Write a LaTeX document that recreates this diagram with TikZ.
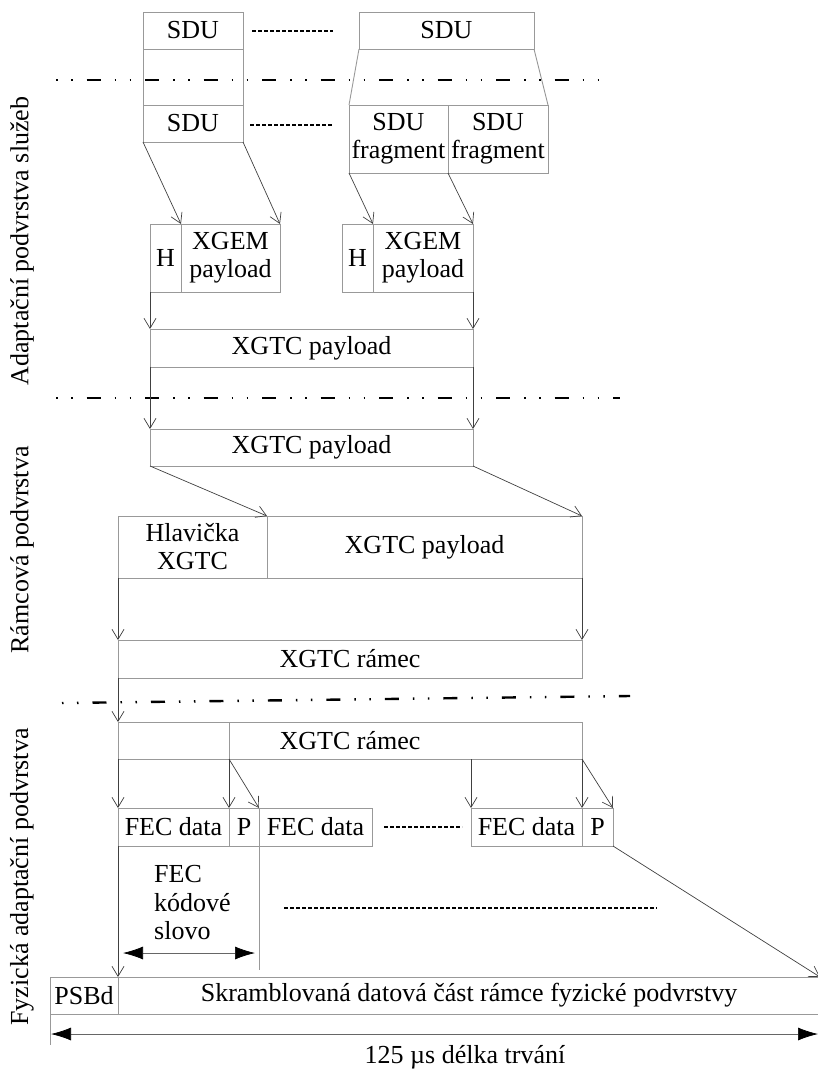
\documentclass[tikz,border=0pt]{standalone}
\usepackage{fontspec}
\setmainfont{Liberation Serif}
\usetikzlibrary{positioning,arrows.meta}

\begin{document}
\begin{tikzpicture}[
  x=1pt, y=-1pt,
  font=\fontsize{26}{28}\selectfont,
  cell/.style={draw=black!40, line width=0.9pt, inner sep=0pt, outer sep=0pt, anchor=north west, align=center},
  link/.style={draw=black!40, line width=0.9pt},
  flow/.style={-{Straight Barb[length=10pt,width=12pt]}, draw=black!75, line width=0.7pt},
  span/.style={{Latex[black,length=20pt,width=13pt]}-{Latex[black,length=20pt,width=13pt]}, draw=black!60, line width=0.7pt},
  layer/.style={line width=2.4pt, dash pattern=on 1.5pt off 13.5pt on 1.5pt off 14pt on 14pt off 14pt},
  etc/.style={line width=1.6pt, dash pattern=on 3.5pt off 2.5pt}
]
\useasboundingbox (0,0) rectangle (817,1070);

% adaptacni podvrstva sluzeb
\node[cell, minimum width=100pt, minimum height=37pt] (sdu1) at (143,12) {SDU};
\node[cell, minimum width=175pt, minimum height=37pt] (sdu2) at (359,12) {SDU};
\node[cell, minimum width=100pt, minimum height=37pt] (sdu3) at (143,105) {SDU};
\node[cell, minimum width=99pt, minimum height=68pt] (frag1) at (349,105) {SDU\\fragment};
\node[cell, minimum width=100pt, minimum height=68pt, right=0pt of frag1] (frag2) {SDU\\fragment};

\node[cell, minimum width=31pt, minimum height=68pt] (h1) at (150,224) {H};
\node[cell, minimum width=99pt, minimum height=68pt, right=0pt of h1] (xgem1) {XGEM\\payload};
\node[cell, minimum width=31pt, minimum height=68pt] (h2) at (342,224) {H};
\node[cell, minimum width=100pt, minimum height=68pt, right=0pt of h2] (xgem2) {XGEM\\payload};

\node[cell, minimum width=323pt, minimum height=38pt] (xp1) at (150,329) {XGTC payload};
\node[cell, minimum width=323pt, minimum height=37pt] (xp2) at (150,429) {XGTC payload};

% ramcova podvrstva
\node[cell, minimum width=149pt, minimum height=62pt] (hl) at (118,516) {Hlavička\\XGTC};
\node[cell, minimum width=315pt, minimum height=62pt, right=0pt of hl] (xp3) {XGTC payload};
\node[cell, minimum width=464pt, minimum height=38pt] (fr1) at (118,640) {XGTC rámec};

% fyzicka adaptacni podvrstva
\node[cell, minimum width=464pt, minimum height=37pt] (fr2) at (118,722) {XGTC rámec};
\node[cell, minimum width=111pt, minimum height=38pt] (fec1) at (118,808) {FEC data};
\node[cell, minimum width=30pt, minimum height=38pt, right=0pt of fec1] (p1) {P};
\node[cell, minimum width=113pt, minimum height=38pt, right=0pt of p1] (fec2) {FEC data};
\node[cell, minimum width=111pt, minimum height=38pt] (fec3) at (471,808) {FEC data};
\node[cell, minimum width=31pt, minimum height=38pt, right=0pt of fec3] (p2) {P};
\node[align=left, anchor=west, inner sep=0pt, font=\fontsize{26}{28.5}\selectfont] (cw) at (154,903) {FEC\\kódové\\slovo};
\node[cell, minimum width=68pt, minimum height=37pt] (psbd) at (50,977) {PSBd};
\node[cell, minimum width=702pt, minimum height=37pt, right=0pt of psbd] (scr) {Skramblovaná datová část rámce fyzické podvrstvy};
\node (dur) at (465,1057) {125 µs délka trvání};

\node[rotate=90] (lsluzby) at (22,241) {Adaptační podvrstva služeb};
\node[rotate=90] (lramec) at (22,550) {Rámcová podvrstva};
\node[rotate=90] (lfyz) at (22,877) {Fyzická adaptační podvrstva};

\coordinate (cwa) at (123,953);
\coordinate (cwb) at (255,953);
\coordinate (cwend) at (259,970);
\coordinate (dura) at (51,1034);
\coordinate (durb) at (818,1034);

% hranice podvrstev
\draw[layer] (56,80) -- (600,80);
\draw[layer] (56,398) -- (620,398);
\draw[layer] (62,703) -- (630,696);

% tecky
\draw[etc] (252,31) -- (333,31);
\draw[etc] (250,125) -- (333,125);
\draw[etc] (384,827) -- (462,827);
\draw[etc] (284,908) -- (657,908);

% spojnice
\draw[link] (sdu1.south west) -- (sdu3.north west);
\draw[link] (sdu1.south east) -- (sdu3.north east);
\draw[link] (sdu2.south west) -- (frag1.north west);
\draw[link] (sdu2.south east) -- (frag2.north east);
\draw[link] (p1.north west |- fr2.north) -- (p1.north west |- fr2.south);
\draw[link] (fec2.south west) -- (cwend);
\draw[link] (psbd.south west) -- ++(0,31);

\draw[flow] (sdu3.south west) -- (h1.north east);
\draw[flow] (sdu3.south east) -- (xgem1.north east);
\draw[flow] (frag1.south west) -- (h2.north east);
\draw[flow] (frag2.south west) -- (xgem2.north east);
\draw[flow] (h1.south west) -- (xp1.north west);
\draw[flow] (xgem2.south east) -- (xp1.north east);
\draw[flow] (xp1.south west) -- (xp2.north west);
\draw[flow] (xp1.south east) -- (xp2.north east);
\draw[flow] (xp2.south west) -- (hl.north east);
\draw[flow] (xp2.south east) -- (xp3.north east);
\draw[flow] (hl.south west) -- (fr1.north west);
\draw[flow] (xp3.south east) -- (fr1.north east);
\draw[flow] (fr1.south west) -- (fr2.north west);
\draw[flow] (fr2.south west) -- (fec1.north west);
\draw[flow] (p1.north west |- fr2.south) -- (p1.north west);
\draw[flow] (p1.north west |- fr2.south) -- (p1.north east);
\draw[flow] (fec3.north west |- fr2.south) -- (fec3.north west);
\draw[flow] (fr2.south east) -- (p2.north west);
\draw[flow] (fr2.south east) -- (p2.north east);
\draw[flow] (fec1.south west) -- (scr.north west);
\draw[flow] (p2.south east) -- (scr.north east);

\draw[span] (cwa) -- (cwb);
\draw[span] (dura) -- (durb);
\end{tikzpicture}
\end{document}
